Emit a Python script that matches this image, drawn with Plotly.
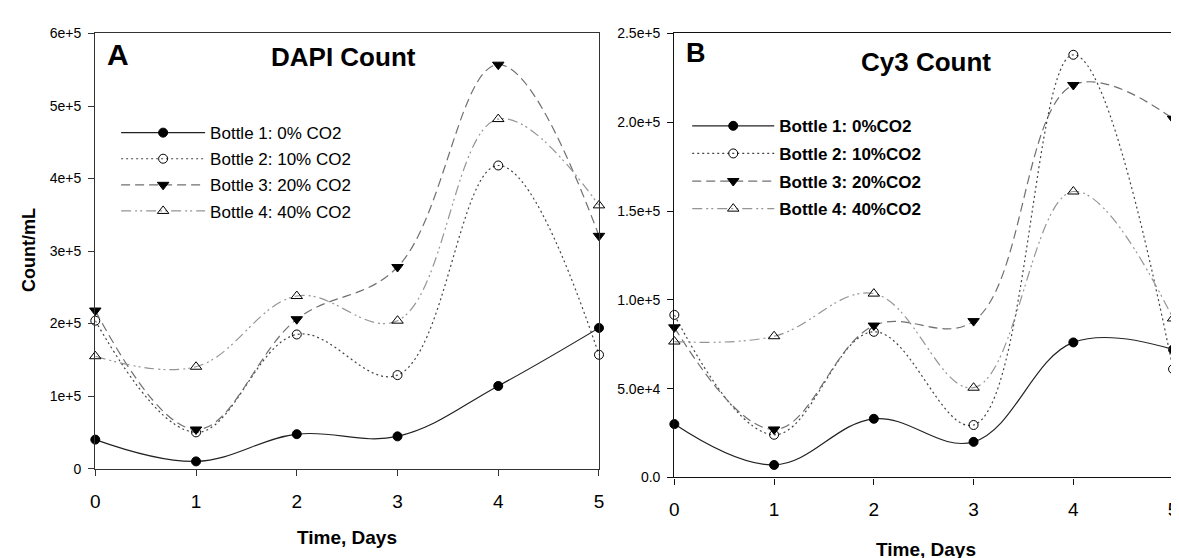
import plotly.graph_objects as go

days = [0, 1, 2, 3, 4, 5]

# Panel A: DAPI count (Count/mL)
dapi_b1 = [40000, 10000, 47500, 44500, 114000, 194000]
dapi_b2 = [204000, 50000, 185000, 129000, 418000, 157000]
dapi_b3 = [218000, 54000, 206000, 278000, 557000, 321000]
dapi_b4 = [155000, 140500, 238000, 204000, 482000, 363000]

# Panel B: Cy3 count (Count/mL)
cy3_b1 = [30000, 7000, 33000, 20000, 76000, 72000]
cy3_b2 = [91500, 24000, 82000, 29500, 238000, 61000]
cy3_b3 = [84500, 27000, 85500, 88000, 221000, 202000]
cy3_b4 = [76500, 79500, 103500, 50500, 161000, 89500]

names_a = ["Bottle 1: 0% CO2", "Bottle 2: 10% CO2", "Bottle 3: 20% CO2", "Bottle 4: 40% CO2"]
names_b = ["Bottle 1: 0%CO2", "Bottle 2: 10%CO2", "Bottle 3: 20%CO2", "Bottle 4: 40%CO2"]

ytick_a_vals = [0, 100000, 200000, 300000, 400000, 500000, 600000]
ytick_a_text = ["0", "1e+5", "2e+5", "3e+5", "4e+5", "5e+5", "6e+5"]
ytick_b_vals = [0, 50000, 100000, 150000, 200000, 250000]
ytick_b_text = ["0.0", "5.0e+4", "1.0e+5", "1.5e+5", "2.0e+5", "2.5e+5"]

FONT = "Liberation Sans, Arial, sans-serif"

styles = [
    dict(line=dict(color="#222222", width=1.2, dash="solid"),
         marker=dict(symbol="circle", size=9, color="black", line=dict(color="black", width=1))),
    dict(line=dict(color="#444444", width=1.2, dash="2px,3px"),
         marker=dict(symbol="circle-open", size=9, color="black", line=dict(color="black", width=1))),
    dict(line=dict(color="#707070", width=1.2, dash="9px,5px"),
         marker=dict(symbol="triangle-down", size=10, color="black", line=dict(color="black", width=1))),
    dict(line=dict(color="#959595", width=1.2, dash="10px,4px,2px,3px,2px,4px"),
         marker=dict(symbol="triangle-up-open", size=10, color="black", line=dict(color="black", width=1))),
]

fig = go.Figure()

for i, (series, name, st) in enumerate(zip([dapi_b1, dapi_b2, dapi_b3, dapi_b4], names_a, styles)):
    fig.add_trace(go.Scatter(
        x=days, y=series, name=name, mode="lines+markers",
        line=dict(shape="spline", smoothing=1.1, **st["line"]),
        marker=st["marker"], cliponaxis=False, legendgroup="a%d" % i,
        xaxis="x", yaxis="y", legend="legend"))

for i, (series, name, st) in enumerate(zip([cy3_b1, cy3_b2, cy3_b3, cy3_b4], names_b, styles)):
    fig.add_trace(go.Scatter(
        x=days, y=series, name=name, mode="lines+markers",
        line=dict(shape="spline", smoothing=1.1, **st["line"]),
        marker=st["marker"], cliponaxis=False, legendgroup="b%d" % i,
        xaxis="x2", yaxis="y2", legend="legend2"))

W, H = 1179, 558
def px(v):
    return v / W
def py(v):
    return 1 - v / H

def axis_common(color):
    return dict(showline=True, linecolor=color, linewidth=1.3, mirror=True,
                showgrid=False, zeroline=False, ticks="outside", ticklen=6,
                tickcolor=color, tickwidth=1)

fig.update_layout(
    width=W, height=H,
    margin=dict(l=0, r=0, t=0, b=0),
    paper_bgcolor="white", plot_bgcolor="white",
    xaxis=dict(domain=[px(83), px(591)], range=[0, 5], tickvals=days,
               tickfont=dict(family=FONT, size=19, color="black"), ticklabelstandoff=9,
               anchor="y", **axis_common("#333333")),
    yaxis=dict(domain=[py(466), py(18)], range=[0, 600000],
               tickvals=ytick_a_vals, ticktext=ytick_a_text,
               tickfont=dict(family=FONT, size=14, color="black"), ticklabelstandoff=4,
               anchor="x", **axis_common("#333333")),
    xaxis2=dict(domain=[px(667), px(1170)], range=[0, 5], tickvals=days,
                tickfont=dict(family=FONT, size=19, color="black"), ticklabelstandoff=9,
                anchor="y2", **axis_common("#111111")),
    yaxis2=dict(domain=[py(475), py(18)], range=[0, 250000],
                tickvals=ytick_b_vals, ticktext=ytick_b_text,
                tickfont=dict(family=FONT, size=14, color="black"), ticklabelstandoff=4,
                anchor="x2", **axis_common("#111111")),
    legend=dict(x=px(104), y=py(102), xanchor="left", yanchor="top",
                bgcolor="rgba(0,0,0,0)", itemwidth=84, tracegroupgap=1,
                font=dict(family=FONT, size=17, color="black")),
    legend2=dict(x=px(680), y=py(95), xanchor="left", yanchor="top",
                 bgcolor="rgba(0,0,0,0)", itemwidth=82, tracegroupgap=2.5,
                 font=dict(family=FONT, size=17, color="black", weight="bold")),
    showlegend=True,
    annotations=[
        dict(text="<b>A</b>", x=px(93), y=py(40), xref="paper", yref="paper",
             xanchor="left", yanchor="middle", showarrow=False,
             font=dict(family=FONT, size=30, color="black")),
        dict(text="<b>DAPI Count</b>", x=px(333), y=py(42), xref="paper", yref="paper",
             xanchor="center", yanchor="middle", showarrow=False,
             font=dict(family=FONT, size=26, color="black")),
        dict(text="<b>B</b>", x=px(677), y=py(38), xref="paper", yref="paper",
             xanchor="left", yanchor="middle", showarrow=False,
             font=dict(family=FONT, size=27, color="black")),
        dict(text="<b>Cy3 Count</b>", x=px(921), y=py(47), xref="paper", yref="paper",
             xanchor="center", yanchor="middle", showarrow=False,
             font=dict(family=FONT, size=26, color="black")),
        dict(text="<b>Time, Days</b>", x=px(337), y=py(537), xref="paper", yref="paper",
             xanchor="center", yanchor="middle", showarrow=False,
             font=dict(family=FONT, size=19, color="black")),
        dict(text="<b>Time, Days</b>", x=px(921), y=py(549), xref="paper", yref="paper",
             xanchor="center", yanchor="middle", showarrow=False,
             font=dict(family=FONT, size=19, color="black")),
        dict(text="<b>Count/mL</b>", x=px(16), y=py(241), xref="paper", yref="paper",
             xanchor="center", yanchor="middle", showarrow=False, textangle=-90,
             font=dict(family=FONT, size=18, color="black")),
    ],
)

fig.write_html("out.html")
